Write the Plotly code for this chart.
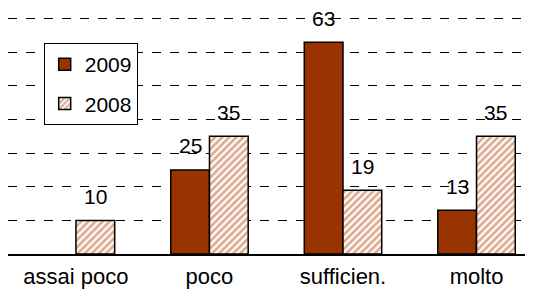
import plotly.graph_objects as go

categories = ["assai poco", "poco", "sufficien.", "molto"]
series_names = ["2009", "2008"]
values_2009 = [None, 25, 63, 13]
values_2008 = [10, 35, 19, 35]
label_2009 = ["", "25", "63", "13"]
label_2008 = ["10", "35", "19", "35"]

xs = list(range(len(categories)))
bar_w = 0.29
FS = 21

fig = go.Figure()
fig.add_trace(go.Bar(
    x=xs, y=values_2009, name=series_names[0], width=bar_w, offset=-bar_w,
    legendgroup="a",
    marker=dict(color="#993300", line=dict(color="black", width=1.5)),
))
fig.add_trace(go.Bar(
    x=xs, y=values_2008, name=series_names[1], width=bar_w, offset=0,
    legendgroup="b",
    marker=dict(color="white", line=dict(color="black", width=1.5),
                pattern=dict(shape="/", fgcolor="#bb5a26", bgcolor="white",
                             size=5, solidity=0.55)),
))

annotations = []
for i, (v, t) in enumerate(zip(values_2009, label_2009)):
    if v is not None and t:
        annotations.append(dict(x=i - bar_w / 2, y=v, text=t, showarrow=False,
                                yanchor="middle", yshift=24,
                                font=dict(size=FS, color="black")))
for i, (v, t) in enumerate(zip(values_2008, label_2008)):
    if v is not None and t:
        annotations.append(dict(x=i + bar_w / 2, y=v, text=t, showarrow=False,
                                yanchor="middle", yshift=24,
                                font=dict(size=FS, color="black")))

fig.update_layout(
    width=533, height=290,
    margin=dict(l=0, r=8, t=4, b=44, autoexpand=False),
    paper_bgcolor="white", plot_bgcolor="white",
    font=dict(family="Liberation Sans, Arial, sans-serif", size=FS, color="black"),
    barmode="overlay",
    showlegend=True,
    legend=dict(x=0.068, y=0.872, xanchor="left", yanchor="top",
                bordercolor="black", borderwidth=1, bgcolor="white",
                font=dict(size=FS), itemwidth=30, tracegroupgap=9,
                traceorder="grouped"),
    annotations=annotations,
    xaxis=dict(range=[-0.509, 3.423], tickmode="array", tickvals=xs, ticktext=categories,
               showgrid=False, zeroline=False, showline=True, linecolor="black",
               linewidth=1.5, ticks="", tickfont=dict(size=22), automargin=False,
               ticklabelstandoff=2),
    yaxis=dict(range=[0, 72], tickmode="array", tickvals=[10, 20, 30, 40, 50, 60, 70],
               showgrid=True, gridcolor="black",
               griddash="dash", gridwidth=1, showticklabels=False, zeroline=False,
               showline=False, ticks="", automargin=False),
)
fig.write_html("out.html")
